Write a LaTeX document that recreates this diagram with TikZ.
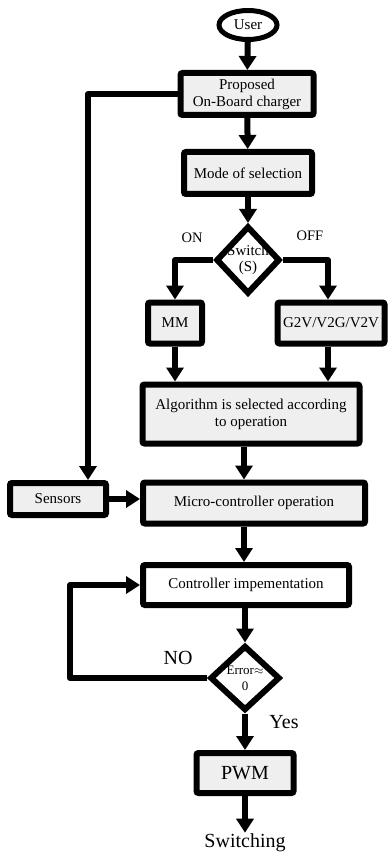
\documentclass[tikz,border=0pt]{standalone}
\usepackage{fontspec}
\setmainfont{Liberation Serif}
\usepackage{xcolor}
\usepackage{tikz}
\usetikzlibrary{arrows.meta}
\usetikzlibrary{shapes.geometric}
\definecolor{boxgray}{HTML}{EFEFEF}
\tikzset{
	block/.style={draw, line width=6pt, fill=boxgray, rounded corners=2pt, align=center, inner sep=0pt, font=\fontsize{15}{17}\selectfont},
	decide/.style={draw, diamond, line width=6pt, fill=white, inner sep=0pt, aspect=1},
	flow/.style={line width=6pt, -{Triangle[width=17pt,length=14pt]}},
	lbl/.style={font=\fontsize{14.5}{17}\selectfont},
	big/.style={font=\fontsize{20}{22}\selectfont}
}
\begin{document}
\begin{tikzpicture}[x=1pt, y=-1pt]
	\useasboundingbox (0,0) rectangle (391,858);
	\node[draw, ellipse, line width=5pt, fill=white, minimum width=58pt, minimum height=29pt, inner sep=0pt,
		font=\fontsize{15}{17}\selectfont] (user) at (248,25) {User};
	\node[block, minimum width=133pt, minimum height=42pt] (prop) at (247,94) {Proposed\\On-Board charger};
	\node[block, minimum width=128pt, minimum height=42pt] (mode) at (248,173) {Mode of selection};
	\node[decide, minimum width=64pt, minimum height=68pt,
		label={[align=center, font=\fontsize{15}{16}\selectfont]center:Switch\\(S)}] (sw) at (248,260) {};
	\node[lbl] (on) at (192,238) {ON};
	\node[lbl] (off) at (310,236) {OFF};
	\node[block, minimum width=54pt, minimum height=41pt] (mm) at (175,323) {MM};
	\node[block, minimum width=107pt, minimum height=41pt] (gv) at (331,323) {G2V/V2G/V2V};
	\node[block, minimum width=217pt, minimum height=59pt] (alg) at (251,414) {Algorithm is selected according\\to operation};
	\node[block, minimum width=222pt, minimum height=41pt] (micro) at (254,503) {Micro-controller operation};
	\node[block, minimum width=96pt, minimum height=32pt] (sens) at (58,499) {Sensors};
	\node[block, fill=white, minimum width=206pt, minimum height=40pt] (ctrl) at (246,585) {Controller impementation};
	\node[decide, minimum width=70pt, minimum height=65pt,
		label={[align=center, font=\fontsize{13}{16}\selectfont]center:Error$\approx$\\0}] (err) at (245,678) {};
	\node[big] (no) at (178,658) {NO};
	\node[big] (yes) at (284,722) {Yes};
	\node[block, big, minimum width=97pt, minimum height=40pt] (pwm) at (245,773) {PWM};
	\node[big, inner sep=1pt] (swt) at (245,843) {Switching};

	\draw[flow] (user) -- (prop);
	\draw[flow] (prop) -- (mode);
	\draw[flow] (mode) -- (sw);
	\draw[flow, line join=round] (sw.west) -| (mm.north);
	\draw[flow, line join=round] (sw.east) -| ([xshift=-3pt]gv.north);
	\draw[flow] (mm.south) -- (mm.south |- alg.north);
	\draw[flow] ([xshift=-3pt]gv.south) -- ([xshift=-3pt]gv.south |- alg.north);
	\draw[flow] ([xshift=-7pt]alg.south) -- ([xshift=-7pt]alg.south |- micro.north);
	\draw[flow, line join=round] (prop.west) -| ([xshift=30pt]sens.north);
	\draw[flow] (sens.east) -- (sens.east -| micro.west);
	\draw[flow] ([xshift=-10pt]micro.south) -- ([xshift=-10pt]micro.south |- ctrl.north);
	\draw[flow] (ctrl.south -| err) -- (err.north);
	\draw[flow, line join=round] (err.west) -- ++(-137,0) |- (ctrl.west);
	\draw[flow] (err.south) -- (pwm.north);
	\draw[flow] (pwm.south) -- (swt.north);
\end{tikzpicture}
\end{document}
